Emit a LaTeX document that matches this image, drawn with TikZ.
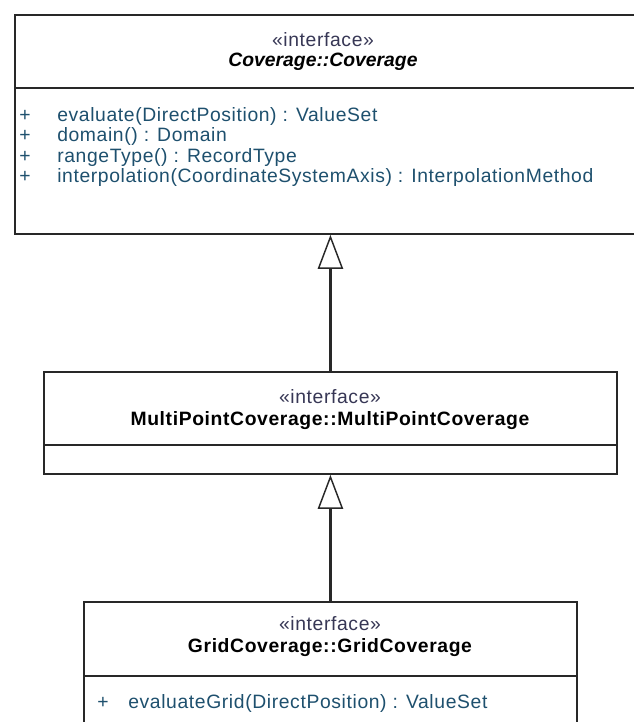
\documentclass[tikz,border=0pt]{standalone}
\usepackage{fontspec}
\setmainfont[LetterSpace=3.2]{Liberation Sans}
\newfontfamily\titlefont{Liberation Sans}
\usetikzlibrary{arrows.meta,positioning}

\definecolor{opcolor}{RGB}{30,80,110}
\definecolor{stcolor}{RGB}{55,55,85}
\definecolor{edgegray}{RGB}{40,40,40}

\begin{document}
\begin{tikzpicture}[x=0.75pt, y=-0.75pt, font=\fontsize{14.5}{17}\selectfont,
		box/.style={rectangle, draw=edgegray, line width=1.4pt, fill=white, anchor=north west, inner sep=0pt},
		sep/.style={draw=edgegray, line width=1.4pt},
		stereo/.style={text=stcolor},
		cname/.style={font=\fontsize{14.5}{17}\selectfont\bfseries},
		op/.style={text=opcolor, anchor=west, inner sep=0pt},
		realize/.style={draw=edgegray, line width=1.6pt, -{Triangle[open, length=25.5pt, width=19pt, line width=1.1pt]}}]

	\useasboundingbox (0,0) rectangle (633,722);

	% the three interfaces
	\node[box, minimum width=469.5pt, minimum height=164.25pt] (cov)   at (14,14)  {};
	\node[box, minimum width=429.75pt, minimum height=76.5pt]  (multi) at (43,371) {};
	\node[box, minimum width=369.75pt, minimum height=105pt]   (grid)  at (83,601) {};

	% compartments
	\draw[sep] (cov.west |- 0,88)    -- (cov.east |- 0,88);
	\draw[sep] (multi.west |- 0,445) -- (multi.east |- 0,445);
	\draw[sep] (grid.west |- 0,676)  -- (grid.east |- 0,676);

	% headers
	\node[stereo]  (covst)     at (323,40)  {«interface»};
	\node[cname]   (covname)   at (323,62)  {\titlefont\itshape Coverage::Coverage};
	\node[stereo]  (multist)   at (330,397) {«interface»};
	\node[cname]   (multiname) at (330,421) {MultiPointCoverage::MultiPointCoverage};
	\node[stereo]  (gridst)    at (330,624) {«interface»};
	\node[cname]   (gridname)  at (330,648) {GridCoverage::GridCoverage};

	% operations
	\foreach \y/\t [count=\i] in {116/evaluate(DirectPosition) : ValueSet,
			136/domain() : Domain,
			157/rangeType() : RecordType,
			177/interpolation(CoordinateSystemAxis) : InterpolationMethod}
	{
		\node[op] (covvis\i) at (19,\y) {+};
		\node[op] (covop\i)  at (57,\y) {\t};
	}
	\node[op] (gridvis1) at (97,703)  {+};
	\node[op] (gridop1)  at (128,703) {evaluateGrid(DirectPosition) : ValueSet};

	% generalisations
	\draw[realize] (multi.north) -- (multi.north |- cov.south);
	\draw[realize] (grid.north)  -- (grid.north |- multi.south);

\end{tikzpicture}
\end{document}
